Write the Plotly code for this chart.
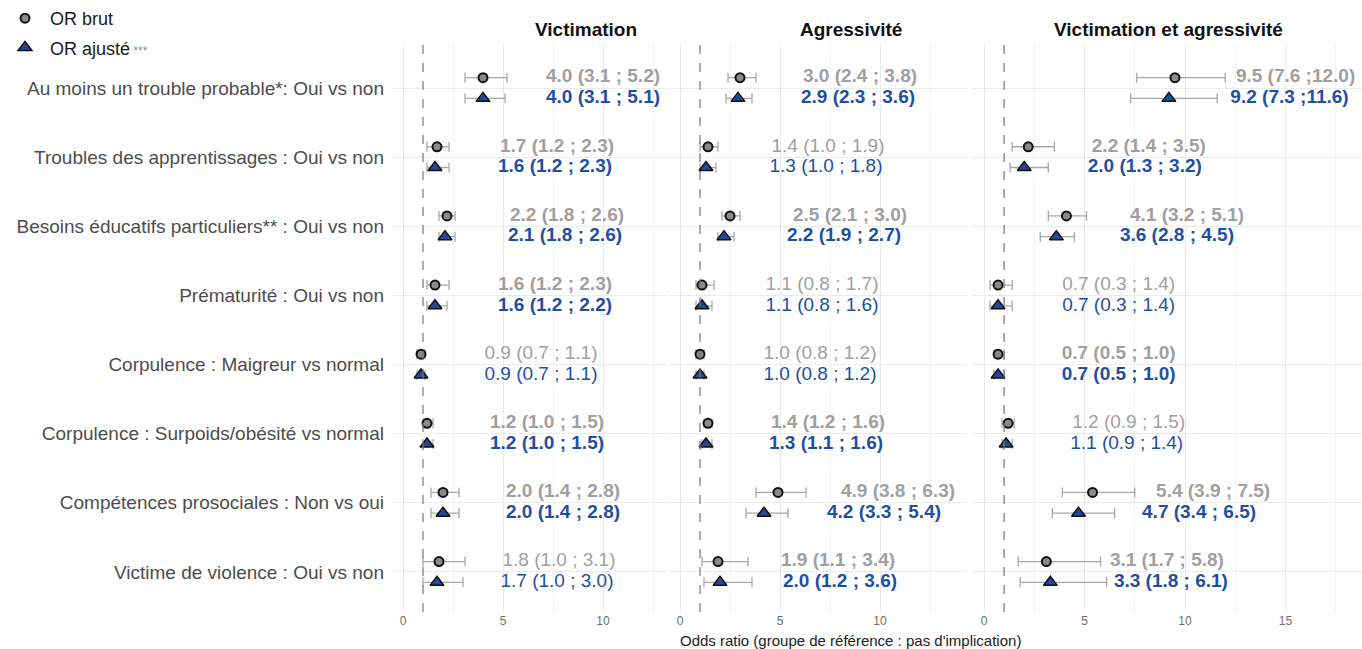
import plotly.graph_objects as go

W, H = 1362, 649

categories = [
    "Au moins un trouble probable*: Oui vs non",
    "Troubles des apprentissages : Oui vs non",
    "Besoins éducatifs particuliers** : Oui vs non",
    "Prématurité : Oui vs non",
    "Corpulence : Maigreur vs normal",
    "Corpulence : Surpoids/obésité vs normal",
    "Compétences prosociales : Non vs oui",
    "Victime de violence : Oui vs non",
]
panels = ["Victimation", "Agressivité", "Victimation et agressivité"]

# Victimation
vic_brut_or = [4.0, 1.7, 2.2, 1.6, 0.9, 1.2, 2.0, 1.8]
vic_brut_lo = [3.1, 1.2, 1.8, 1.2, 0.7, 1.0, 1.4, 1.0]
vic_brut_hi = [5.2, 2.3, 2.6, 2.3, 1.1, 1.5, 2.8, 3.1]
vic_adj_or = [4.0, 1.6, 2.1, 1.6, 0.9, 1.2, 2.0, 1.7]
vic_adj_lo = [3.1, 1.2, 1.8, 1.2, 0.7, 1.0, 1.4, 1.0]
vic_adj_hi = [5.1, 2.3, 2.6, 2.2, 1.1, 1.5, 2.8, 3.0]
vic_bold = [1, 1, 1, 1, 0, 1, 1, 0]

# Agressivité
agr_brut_or = [3.0, 1.4, 2.5, 1.1, 1.0, 1.4, 4.9, 1.9]
agr_brut_lo = [2.4, 1.0, 2.1, 0.8, 0.8, 1.2, 3.8, 1.1]
agr_brut_hi = [3.8, 1.9, 3.0, 1.7, 1.2, 1.6, 6.3, 3.4]
agr_adj_or = [2.9, 1.3, 2.2, 1.1, 1.0, 1.3, 4.2, 2.0]
agr_adj_lo = [2.3, 1.0, 1.9, 0.8, 0.8, 1.1, 3.3, 1.2]
agr_adj_hi = [3.6, 1.8, 2.7, 1.6, 1.2, 1.6, 5.4, 3.6]
agr_bold = [1, 0, 1, 0, 0, 1, 1, 1]

# Victimation et agressivité
va_brut_or = [9.5, 2.2, 4.1, 0.7, 0.7, 1.2, 5.4, 3.1]
va_brut_lo = [7.6, 1.4, 3.2, 0.3, 0.5, 0.9, 3.9, 1.7]
va_brut_hi = [12.0, 3.5, 5.1, 1.4, 1.0, 1.5, 7.5, 5.8]
va_adj_or = [9.2, 2.0, 3.6, 0.7, 0.7, 1.1, 4.7, 3.3]
va_adj_lo = [7.3, 1.3, 2.8, 0.3, 0.5, 0.9, 3.4, 1.8]
va_adj_hi = [11.6, 3.2, 4.5, 1.4, 1.0, 1.4, 6.5, 6.1]
va_bold = [1, 1, 1, 0, 1, 0, 1, 1]

data = [
    (vic_brut_or, vic_brut_lo, vic_brut_hi, vic_adj_or, vic_adj_lo, vic_adj_hi, vic_bold),
    (agr_brut_or, agr_brut_lo, agr_brut_hi, agr_adj_or, agr_adj_lo, agr_adj_hi, agr_bold),
    (va_brut_or, va_brut_lo, va_brut_hi, va_adj_or, va_adj_lo, va_adj_hi, va_bold),
]

x_ticks = [0, 5, 10, 15]

# ---- layout geometry (pixels) ----
dom_px = [(393, 666), (668, 967), (972, 1362)]
zero_px = [403, 680, 984]
scale_px = [20.0, 20.0, 20.1]
title_px = [586, 851, 1168]
y_top_px, y_bot_px = 43, 612
row1_px, row_step = 88, 69.14
off = 0.15
label_shift = 6.0

GRAY_TXT = "#A0A0A0"
BLUE_TXT = "#1F4FA5"
FONT = "Liberation Sans, Arial, sans-serif"


def fmt(o, l, h):
    return f"{o:.1f} ({l:.1f} ;{h:4.1f})"


fig = go.Figure()
rows = list(range(1, len(categories) + 1))

for p, (bo, bl, bh, ao, al, ah, bold) in enumerate(data):
    xa = "x" if p == 0 else f"x{p+1}"
    showleg = p == 0
    fig.add_trace(go.Scatter(
        x=bo, y=[r - off for r in rows], xaxis=xa, yaxis="y", mode="markers",
        name="OR brut", showlegend=showleg, legendrank=1, legendgroup="brut",
        marker=dict(symbol="circle", size=9, color="#8A8A8A",
                    line=dict(color="#111111", width=2)),
        error_x=dict(type="data", symmetric=False,
                     array=[h - o for h, o in zip(bh, bo)],
                     arrayminus=[o - l for o, l in zip(bo, bl)],
                     color="#A8A8A8", thickness=1.3, width=5),
        hoverinfo="skip"))
    fig.add_trace(go.Scatter(
        x=ao, y=[r + off for r in rows], xaxis=xa, yaxis="y", mode="markers",
        name="OR ajusté<span style='font-size:12px;color:#8C8C8C'> ***</span>",
        showlegend=showleg, legendrank=2, legendgroup="adj",
        marker=dict(symbol="triangle-up", size=12, color="#1F4A9A",
                    line=dict(color="#111111", width=1.5)),
        error_x=dict(type="data", symmetric=False,
                     array=[h - o for h, o in zip(ah, ao)],
                     arrayminus=[o - l for o, l in zip(ao, al)],
                     color="#A8A8A8", thickness=1.3, width=5),
        hoverinfo="skip"))
    fig.add_trace(go.Scatter(
        x=[o + label_shift for o in bo], y=[r - off for r in rows], xaxis=xa, yaxis="y",
        mode="text", showlegend=False, hoverinfo="skip",
        text=[(f"<b>{fmt(o,l,h)}</b>" if b else fmt(o, l, h)) for o, l, h, b in zip(bo, bl, bh, bold)],
        textfont=dict(family=FONT, size=19, color=GRAY_TXT), textposition="middle center"))
    fig.add_trace(go.Scatter(
        x=[o + label_shift for o in ao], y=[r + off for r in rows], xaxis=xa, yaxis="y",
        mode="text", showlegend=False, hoverinfo="skip",
        text=[(f"<b>{fmt(o,l,h)}</b>" if b else fmt(o, l, h)) for o, l, h, b in zip(ao, al, ah, bold)],
        textfont=dict(family=FONT, size=19, color=BLUE_TXT), textposition="middle center"))

ydom = [1 - y_bot_px / H, 1 - y_top_px / H]
y_lo = 1 - (row1_px - y_top_px) / row_step
y_hi = len(categories) + (y_bot_px - (row1_px + (len(categories) - 1) * row_step)) / row_step

layout = dict(
    width=W, height=H, margin=dict(l=0, r=0, t=0, b=0),
    paper_bgcolor="white", plot_bgcolor="white",
    font=dict(family=FONT, color="#333333"),
    showlegend=True,
    legend=dict(x=0.0, y=1.0, xanchor="left", yanchor="top", bgcolor="rgba(0,0,0,0)",
                font=dict(size=18, color="#1A1A1A"), tracegroupgap=3, itemwidth=40),
    yaxis=dict(domain=ydom, range=[y_hi, y_lo], tickvals=rows, ticktext=categories,
               showgrid=True, gridcolor="#EBEBEB", gridwidth=1, zeroline=False,
               ticks="", tickfont=dict(size=19, color="#4D4D4D"), ticklabelstandoff=8,
               automargin=False, anchor="x", showline=False),
)
shapes = []
annotations = []
for p in range(3):
    d0, d1 = dom_px[p]
    z, s = zero_px[p], scale_px[p]
    key = "xaxis" if p == 0 else f"xaxis{p+1}"
    layout[key] = dict(
        domain=[d0 / W, d1 / W], range=[(d0 - z) / s, (d1 - z) / s],
        tickvals=x_ticks, ticks="", showgrid=True, gridcolor="#EBEBEB", gridwidth=1,
        minor=dict(dtick=2.5, tick0=0, showgrid=True, gridcolor="#F3F3F3", gridwidth=1),
        zeroline=False, showline=False, tickfont=dict(size=12, color="#6E6E6E"),
        anchor="y", automargin=False,
    )
    xr = "x" if p == 0 else f"x{p+1}"
    shapes.append(dict(type="line", xref=xr, yref="paper", x0=1, x1=1, y0=ydom[0], y1=ydom[1],
                       line=dict(color="#777777", width=1.2, dash="dash"), layer="above"))
    annotations.append(dict(text=f"<b>{panels[p]}</b>", xref="paper", yref="paper",
                            x=title_px[p] / W, y=1 - 30 / H, xanchor="center", yanchor="middle",
                            showarrow=False, font=dict(size=19, color="#111111")))

annotations.append(dict(text="Odds ratio (groupe de référence : pas d'implication)",
                        xref="paper", yref="paper", x=850 / W, y=1 - 640 / H,
                        xanchor="center", yanchor="middle", showarrow=False,
                        font=dict(size=15, color="#222222")))
layout["shapes"] = shapes
layout["annotations"] = annotations
fig.update_layout(**layout)
fig.write_html("out.html", config={"displayModeBar": False},
               post_script="document.body.style.margin='0px';")
